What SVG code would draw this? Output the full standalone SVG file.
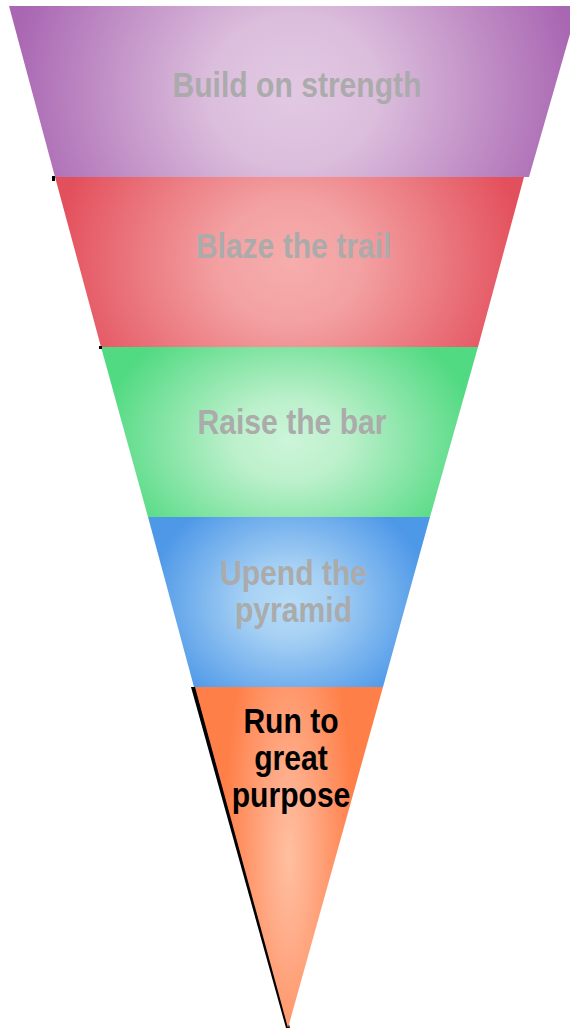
<svg xmlns="http://www.w3.org/2000/svg" width="570" height="1029" viewBox="0 0 570 1029">
<style>
.lbl{font-family:"Liberation Sans",Arial,sans-serif;font-weight:bold;font-size:35px;text-anchor:middle;fill:#ababab}
.dark{fill:#000}
.tick{fill:#000}
</style>
<defs>
<radialGradient id="gP" cx="0.5" cy="0.5" r="0.5" gradientTransform="translate(0.5,0.5) scale(1,3) translate(-0.5,-0.5)">
<stop offset="0" stop-color="#e2c9e3"/><stop offset="0.3" stop-color="#dbbddc"/><stop offset="1" stop-color="#a966b2"/>
</radialGradient>
<radialGradient id="gR" cx="0.5" cy="0.5" r="0.5" gradientTransform="translate(0.5,0.5) scale(1,2.4) translate(-0.5,-0.5)">
<stop offset="0" stop-color="#f6adac"/><stop offset="0.3" stop-color="#f3a1a2"/><stop offset="1" stop-color="#e3505d"/>
</radialGradient>
<radialGradient id="gG" cx="0.5" cy="0.55" r="0.5" gradientTransform="translate(0.5,0.55) scale(1,1.6) translate(-0.5,-0.55)">
<stop offset="0" stop-color="#ccf5d9"/><stop offset="0.3" stop-color="#bcf0cb"/><stop offset="1" stop-color="#52da82"/>
</radialGradient>
<radialGradient id="gB" cx="0.5" cy="0.5" r="0.5" gradientTransform="translate(0.5,0.5) scale(1,1.4) translate(-0.5,-0.5)">
<stop offset="0" stop-color="#b6dcf7"/><stop offset="0.3" stop-color="#a7d1f4"/><stop offset="1" stop-color="#4e98e8"/>
</radialGradient>
<radialGradient id="gO" cx="0.5" cy="0.5" r="0.5" gradientTransform="translate(0.5,0.5) scale(0.7,1.6) translate(-0.5,-0.5)">
<stop offset="0" stop-color="#ffc0a0"/><stop offset="0.3" stop-color="#ffad8a"/><stop offset="1" stop-color="#ff7f48"/>
</radialGradient>
</defs>
<g id="layer-build">
<polygon points="9,6 578,6 529,177 55,177" fill="url(#gP)"/>
<text class="lbl" transform="translate(297,97) scale(0.86,1)">Build on strength</text>
</g>
<g id="layer-blaze">
<polygon points="55,177 524,177 478,347 101,347" fill="url(#gR)"/>
<rect class="tick" x="52" y="176" width="3" height="5"/>
<text class="lbl" transform="translate(293.5,258) scale(0.86,1)">Blaze the trail</text>
</g>
<g id="layer-raise">
<polygon points="101,347 478,347 430,517 148,517" fill="url(#gG)"/>
<rect class="tick" x="99" y="346" width="3" height="3"/>
<text class="lbl" transform="translate(292,434) scale(0.86,1)">Raise the bar</text>
</g>
<g id="layer-upend">
<polygon points="148,517 430,517 383,687 194,687" fill="url(#gB)"/>
<text class="lbl" transform="translate(293.5,585) scale(0.86,1)">Upend the</text>
<text class="lbl" transform="translate(293.5,622) scale(0.86,1)">pyramid</text>
</g>
<g id="layer-run">
<polygon points="191,687 196,687 290,1028 286,1028" fill="#000"/>
<polygon points="195,687 383,687 288,1028" fill="url(#gO)"/>
<text class="lbl dark" transform="translate(291,733) scale(0.86,1)">Run to</text>
<text class="lbl dark" transform="translate(291,770) scale(0.86,1)">great</text>
<text class="lbl dark" transform="translate(291,807) scale(0.86,1)">purpose</text>
</g>
</svg>
